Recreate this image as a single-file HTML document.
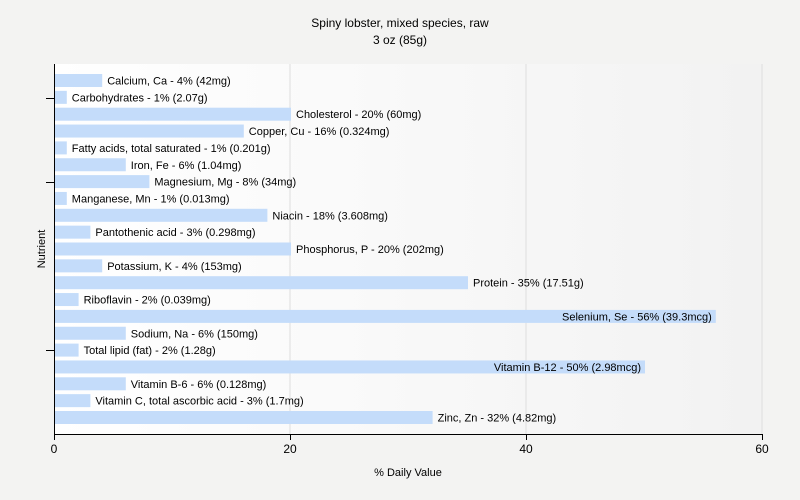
<!DOCTYPE html>
<html><head><style>
body{margin:0;background:#f3f3f2;}
svg{display:block;font-family:"Liberation Sans",sans-serif;}
</style></head><body>
<svg width="800" height="500" xmlns="http://www.w3.org/2000/svg">
<defs><linearGradient id="g" x1="0" x2="1" y1="0" y2="0"><stop offset="0" stop-color="#ffffff"/><stop offset="1" stop-color="#f2f2f2"/></linearGradient></defs>
<rect width="800" height="500" fill="#f3f3f2"/>
<rect x="54" y="64" width="708" height="370" fill="url(#g)"/>
<g stroke="#dddddd"><line x1="290" y1="64" x2="290" y2="434"/><line x1="526" y1="64" x2="526" y2="434"/><line x1="762" y1="64" x2="762" y2="434"/></g>
<text x="400" y="27" font-size="12" text-anchor="middle">Spiny lobster, mixed species, raw</text>
<text x="400" y="44" font-size="12" text-anchor="middle">3 oz (85g)</text>
<g fill="#c4dcfa">
<rect x="55" y="74" width="47.2" height="13"/>
<rect x="55" y="90.85" width="11.8" height="13"/>
<rect x="55" y="107.7" width="236" height="13"/>
<rect x="55" y="124.55" width="188.8" height="13"/>
<rect x="55" y="141.4" width="11.8" height="13"/>
<rect x="55" y="158.25" width="70.8" height="13"/>
<rect x="55" y="175.1" width="94.4" height="13"/>
<rect x="55" y="191.95" width="11.8" height="13"/>
<rect x="55" y="208.8" width="212.4" height="13"/>
<rect x="55" y="225.65" width="35.4" height="13"/>
<rect x="55" y="242.5" width="236" height="13"/>
<rect x="55" y="259.35" width="47.2" height="13"/>
<rect x="55" y="276.2" width="413" height="13"/>
<rect x="55" y="293.05" width="23.6" height="13"/>
<rect x="55" y="309.9" width="660.8" height="13"/>
<rect x="55" y="326.75" width="70.8" height="13"/>
<rect x="55" y="343.6" width="23.6" height="13"/>
<rect x="55" y="360.45" width="590" height="13"/>
<rect x="55" y="377.3" width="70.8" height="13"/>
<rect x="55" y="394.15" width="35.4" height="13"/>
<rect x="55" y="411" width="377.6" height="13"/>
</g>
<g font-size="11" fill="#000">
<text x="107.2" y="84.5">Calcium, Ca - 4% (42mg)</text>
<text x="71.8" y="101.35">Carbohydrates - 1% (2.07g)</text>
<text x="296" y="118.2">Cholesterol - 20% (60mg)</text>
<text x="248.8" y="135.05">Copper, Cu - 16% (0.324mg)</text>
<text x="71.8" y="151.9">Fatty acids, total saturated - 1% (0.201g)</text>
<text x="130.8" y="168.75">Iron, Fe - 6% (1.04mg)</text>
<text x="154.4" y="185.6">Magnesium, Mg - 8% (34mg)</text>
<text x="71.8" y="202.45">Manganese, Mn - 1% (0.013mg)</text>
<text x="272.4" y="219.3">Niacin - 18% (3.608mg)</text>
<text x="95.4" y="236.15">Pantothenic acid - 3% (0.298mg)</text>
<text x="296" y="253">Phosphorus, P - 20% (202mg)</text>
<text x="107.2" y="269.85">Potassium, K - 4% (153mg)</text>
<text x="473" y="286.7">Protein - 35% (17.51g)</text>
<text x="83.6" y="303.55">Riboflavin - 2% (0.039mg)</text>
<text x="711.8" y="320.4" text-anchor="end">Selenium, Se - 56% (39.3mcg)</text>
<text x="130.8" y="337.25">Sodium, Na - 6% (150mg)</text>
<text x="83.6" y="354.1">Total lipid (fat) - 2% (1.28g)</text>
<text x="641" y="370.95" text-anchor="end">Vitamin B-12 - 50% (2.98mcg)</text>
<text x="130.8" y="387.8">Vitamin B-6 - 6% (0.128mg)</text>
<text x="95.4" y="404.65">Vitamin C, total ascorbic acid - 3% (1.7mg)</text>
<text x="437.6" y="421.5">Zinc, Zn - 32% (4.82mg)</text>
</g>
<g stroke="#000"><line x1="54.5" y1="64" x2="54.5" y2="434.5"/><line x1="54" y1="434.5" x2="762" y2="434.5"/>
<line x1="46" y1="98.5" x2="54" y2="98.5"/><line x1="46" y1="182.5" x2="54" y2="182.5"/><line x1="46" y1="350.5" x2="54" y2="350.5"/>
<line x1="54.5" y1="434" x2="54.5" y2="440"/><line x1="290.5" y1="434" x2="290.5" y2="440"/><line x1="526.5" y1="434" x2="526.5" y2="440"/><line x1="762.5" y1="434" x2="762.5" y2="440"/></g>
<g font-size="12" text-anchor="middle"><text x="54" y="453">0</text><text x="290" y="453">20</text><text x="526" y="453">40</text><text x="762" y="453">60</text></g>
<text x="408" y="476" font-size="11" text-anchor="middle">% Daily Value</text>
<text x="45" y="249" font-size="11" text-anchor="middle" transform="rotate(-90 45 249)">Nutrient</text>
</svg>
</body></html>
